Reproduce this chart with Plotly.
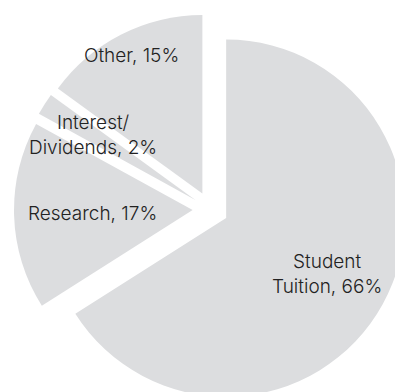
import math
import plotly.graph_objects as go

# Revenue sources, in percent
labels = ["Student Tuition", "Research", "Interest/Dividends", "Other"]
values = [66, 17, 2, 15]
label_text = ["Student<br>Tuition, 66%", "Research, 17%", "Interest/<br>Dividends, 2%", "Other, 15%"]

# Layout settings
slice_color = "#dcdddf"
text_color = "#222222"
pull = 0.1
label_radius = [0.647, 0.559, 0.676, 0.868]  # label distance from slice tip, as fraction of radius
W, H = 420, 420
M = dict(l=14, r=13, t=13, b=14)

fig = go.Figure(
    go.Pie(
        labels=labels,
        values=values,
        sort=False,
        direction="clockwise",
        rotation=0,
        pull=[pull] * len(values),
        marker=dict(colors=[slice_color] * len(values), line=dict(width=0)),
        textinfo="none",
        hoverinfo="label+percent",
        showlegend=False,
    )
)

# Pie geometry as plotly computes it: centre of domain, radius shrunk for the pull
pw = W - M["l"] - M["r"]
ph = H - M["t"] - M["b"]
cx = M["l"] + pw / 2
cy = M["t"] + ph / 2
R = min(pw, ph) / 2 / (1 + pull)

total = sum(values)
cum = 0
for val, txt, rf in zip(values, label_text, label_radius):
    theta = 2 * math.pi * (cum + val / 2) / total
    cum += val
    d = (pull + rf) * R
    px = cx + d * math.sin(theta)
    py = cy - d * math.cos(theta)
    fig.add_annotation(
        x=(px - M["l"]) / pw,
        y=1 - (py - M["t"]) / ph,
        xref="paper",
        yref="paper",
        text=txt,
        showarrow=False,
        xanchor="center",
        yanchor="middle",
        align="center",
        font=dict(family="Inter", size=19, color=text_color, weight=300),
    )

fig.update_layout(
    width=W,
    height=H,
    margin=M,
    paper_bgcolor="white",
    plot_bgcolor="white",
)

fig.write_html(
    "out.html",
    config={"displayModeBar": False},
    post_script="document.documentElement.style.overflow='hidden';document.body.style.overflow='hidden';",
)
